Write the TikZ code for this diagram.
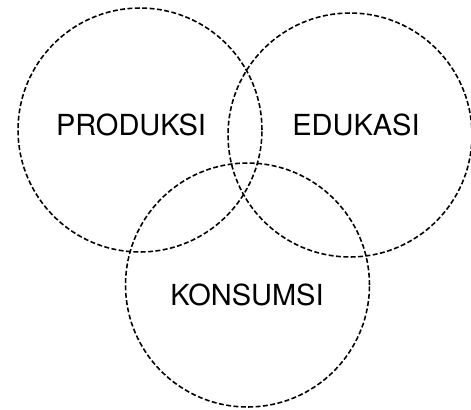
\documentclass[tikz,border=0pt]{standalone}
\usepackage{fontspec}
\setmainfont{TeX Gyre Heros}
\usetikzlibrary{positioning}

\begin{document}
\begin{tikzpicture}[x=0.02cm, y=-0.02cm, thick, font=\fontsize{16.5}{19}\selectfont]
    \useasboundingbox (0,0) rectangle (471,410);
    \tikzset{lingkaran/.style={draw, circle, dash pattern=on 2.8pt off 1.4pt, line width=0.9pt, minimum size=4.88cm, inner sep=0pt}}

    \node[lingkaran] (produksi) at (140,130) {};
    \node[lingkaran] (edukasi) at (350,135) {};
    \node[lingkaran] (konsumsi) at (247.5,285) {};

    \node (tproduksi) at (131,125) {PRODUKSI};
    \node (tedukasi) at (356,125) {EDUKASI};
    \node (tkonsumsi) at (247,295) {KONSUMSI};
\end{tikzpicture}
\end{document}
